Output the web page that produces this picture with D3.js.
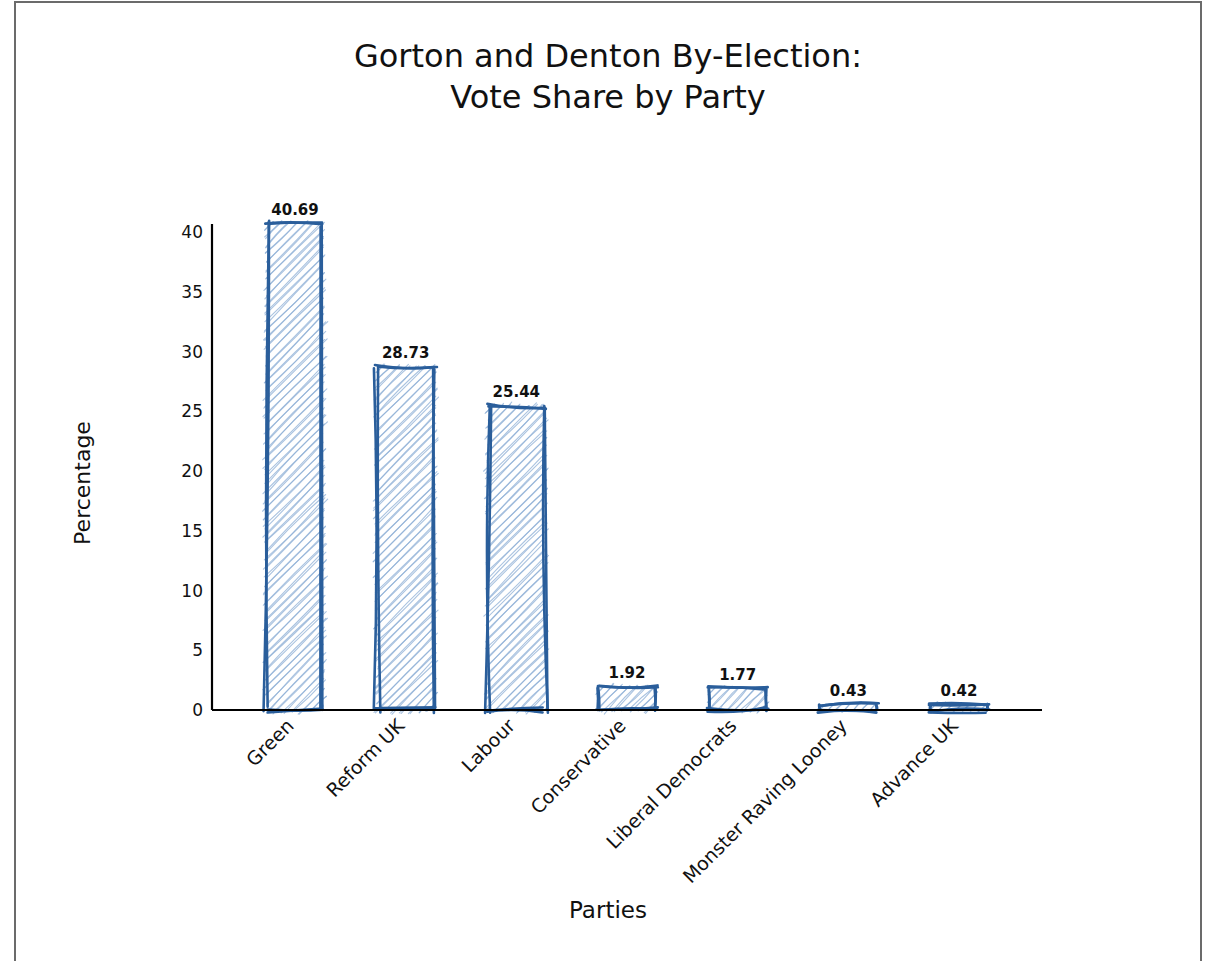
<!DOCTYPE html>
<html>
<head>
<meta charset="utf-8">
<script src="https://cdn.jsdelivr.net/npm/d3@7"></script>
<style>
  html, body { margin: 0; padding: 0; background: #ffffff; }
  svg { display: block; }
  text { font-family: "DejaVu Sans", "Noto Sans", sans-serif; fill: #111; }
</style>
</head>
<body>
<svg id="chart" width="1208" height="961"></svg>
<script>
// ---- data ----
const parties = ["Green", "Reform UK", "Labour", "Conservative", "Liberal Democrats", "Monster Raving Looney", "Advance UK"];
const voteShare = [40.69, 28.73, 25.44, 1.92, 1.77, 0.43, 0.42];
const yTicks = [0, 5, 10, 15, 20, 25, 30, 35, 40];
const titleLines = ["Gorton and Denton By-Election:", "Vote Share by Party"];
const xLabel = "Parties";
const yLabel = "Percentage";

// ---- setup ----
const W = 1208, H = 961;
const FONT = '"DejaVu Sans", "Noto Sans", sans-serif';
const svg = d3.select("#chart");
const margin = { left: 212, right: 166, top: 224, bottom: 251 };
const x0 = margin.left, x1 = W - margin.right, yBase = H - margin.bottom;

// deterministic pseudo-random for the sketchy look (style only, not data)
function mulberry32(a) {
  return function () {
    a |= 0; a = a + 0x6D2B79F5 | 0;
    let t = Math.imul(a ^ a >>> 15, 1 | a);
    t = t + Math.imul(t ^ t >>> 7, 61 | t) ^ t;
    return ((t ^ t >>> 14) >>> 0) / 4294967296;
  };
}
const rnd = mulberry32(20240229);
const jit = (amt) => (rnd() - 0.5) * 2 * amt;

function roughLine(xa, ya, xb, yb, amt) {
  const len = Math.hypot(xb - xa, yb - ya);
  const a = Math.min(amt, Math.max(0.8, len * 0.05));
  const mx = (xa + xb) / 2 + jit(a * 1.3), my = (ya + yb) / 2 + jit(a * 1.3);
  return `M${xa + jit(a)},${ya + jit(a)} Q${mx},${my} ${xb + jit(a)},${yb + jit(a)}`;
}

function hachure(rx, ry, w, h, gap, angle) {
  const a = angle * Math.PI / 180;
  const dx = Math.cos(a), dy = -Math.sin(a), nx = Math.sin(a), ny = Math.cos(a);
  const corners = [[rx, ry], [rx + w, ry], [rx, ry + h], [rx + w, ry + h]];
  const cs = corners.map(p => p[0] * nx + p[1] * ny);
  const cmin = Math.min(...cs), cmax = Math.max(...cs);
  const segs = [];
  for (let c = cmin + gap / 2; c < cmax; c += gap) {
    const px = c * nx, py = c * ny;
    let t0 = -Infinity, t1 = Infinity;
    let ta = (rx - px) / dx, tb = (rx + w - px) / dx;
    t0 = Math.max(t0, Math.min(ta, tb)); t1 = Math.min(t1, Math.max(ta, tb));
    ta = (ry - py) / dy; tb = (ry + h - py) / dy;
    t0 = Math.max(t0, Math.min(ta, tb)); t1 = Math.min(t1, Math.max(ta, tb));
    if (t1 > t0) {
      const e0 = t0 - rnd() * 4, e1 = t1 + rnd() * 4;
      segs.push([px + e0 * dx, py + e0 * dy, px + e1 * dx, py + e1 * dy]);
    }
  }
  return segs;
}

// ---- frame ----
svg.append("rect").attr("x", 15).attr("y", 2).attr("width", 1186).attr("height", 980)
  .attr("fill", "none").attr("stroke", "#6b6b6b").attr("stroke-width", 2);

// ---- scales ----
const x = d3.scaleBand().domain(parties).range([x0, x1]).paddingInner(0.485).paddingOuter(0.4925);
const y = d3.scaleLinear().domain([0, d3.max(voteShare)]).range([yBase, margin.top]);

// ---- title ----
titleLines.forEach((t, i) => {
  svg.append("text").attr("x", 608).attr("y", 67 + i * 41).attr("text-anchor", "middle")
    .style("font-size", "32px").style("font-family", FONT).text(t);
});

// ---- bars ----
const barColor = "#2a5e9b";
const hatchColor = "#8eafd6";
const data = parties.map((p, i) => ({ party: p, value: voteShare[i] }));
const gBars = svg.append("g");
data.forEach(d => {
  const bx = x(d.party), bw = x.bandwidth();
  const by = y(d.value), bh = yBase - by;
  const g = gBars.append("g");
  // hachure fill, each stroke drawn twice
  hachure(bx, by, bw, bh, 6, 45).forEach(s => {
    for (let k = 0; k < 2; k++) {
      g.append("path").attr("d", roughLine(s[0], s[1], s[2], s[3], 1.6))
        .attr("fill", "none").attr("stroke", hatchColor).attr("stroke-width", 1.1)
        .attr("stroke-opacity", 0.75).attr("stroke-linecap", "round");
    }
  });
  // outline drawn twice
  const edges = [[bx, by, bx + bw, by], [bx + bw, by, bx + bw, yBase], [bx + bw, yBase, bx, yBase], [bx, yBase, bx, by]];
  for (let k = 0; k < 2; k++) {
    edges.forEach(e => {
      g.append("path").attr("d", roughLine(e[0], e[1], e[2], e[3], 3.4))
        .attr("fill", "none").attr("stroke", barColor).attr("stroke-width", 2.6)
        .attr("stroke-linecap", "round");
    });
  }
  // value label
  g.append("text").attr("x", bx + bw / 2).attr("y", by - 9)
    .attr("text-anchor", "middle").style("font-size", "15px").style("font-weight", "bold")
    .style("font-family", FONT).text(d.value.toFixed(2));
});

// ---- axes ----
svg.append("line").attr("x1", x0).attr("x2", x0).attr("y1", margin.top).attr("y2", yBase)
  .attr("stroke", "#000").attr("stroke-width", 2.2);
svg.append("line").attr("x1", x0).attr("x2", x1).attr("y1", yBase).attr("y2", yBase)
  .attr("stroke", "#000").attr("stroke-width", 2.2);

const yAxis = d3.axisLeft(y).tickValues(yTicks).tickSize(0).tickPadding(9);
const gy = svg.append("g").attr("transform", `translate(${x0},0)`).call(yAxis);
gy.select(".domain").remove();
gy.selectAll("text").style("font-size", "17px").style("font-family", FONT).attr("fill", "#111");

const xAxis = d3.axisBottom(x).tickSize(0).tickPadding(0);
const gx = svg.append("g").attr("transform", `translate(0,${yBase})`).call(xAxis);
gx.select(".domain").remove();
gx.selectAll("text")
  .style("font-size", "19px").style("font-family", FONT).attr("fill", "#111")
  .attr("text-anchor", "end").attr("dy", null).attr("y", 0)
  .attr("transform", "translate(0,17) rotate(-45)");

// ---- axis labels ----
svg.append("text").attr("x", 608).attr("y", 918).attr("text-anchor", "middle")
  .style("font-size", "23px").style("font-family", FONT).text(xLabel);
svg.append("text").attr("transform", "translate(90,483) rotate(-90)").attr("text-anchor", "middle")
  .style("font-size", "22px").style("font-family", FONT).text(yLabel);
</script>
</body>
</html>
